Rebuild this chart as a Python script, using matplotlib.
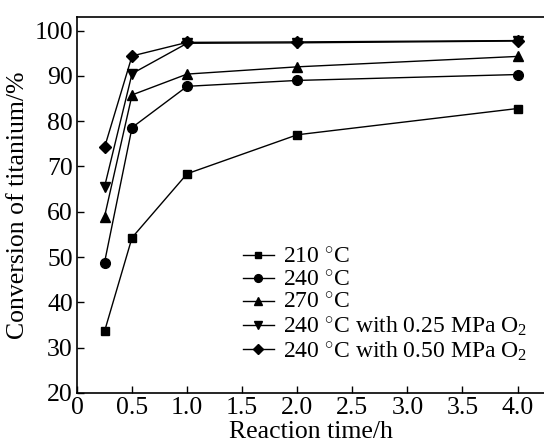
import matplotlib
matplotlib.use("Agg")
import matplotlib.pyplot as plt

plt.rcParams["font.family"] = "serif"
plt.rcParams["font.serif"] = ["Liberation Serif", "DejaVu Serif"]
plt.rcParams["mathtext.fontset"] = "custom"
plt.rcParams["mathtext.rm"] = "Liberation Serif"
plt.rcParams["mathtext.it"] = "Liberation Serif:italic"

time_h = [0.25, 0.5, 1.0, 2.0, 4.0]
conv_210 = [33.6, 54.3, 68.4, 77.0, 82.8]
conv_240 = [48.8, 78.6, 87.7, 89.0, 90.3]
conv_270 = [58.9, 85.8, 90.4, 92.0, 94.3]
conv_240_o2_025 = [65.5, 90.5, 97.2, 97.3, 97.7]
conv_240_o2_050 = [74.2, 94.4, 97.4, 97.5, 97.8]

labels = [r"210 $^{\circ}$C", r"240 $^{\circ}$C", r"270 $^{\circ}$C",
          r"240 $^{\circ}$C with 0.25 MPa O$_2$",
          r"240 $^{\circ}$C with 0.50 MPa O$_2$"]
markers = ["s", "o", "^", "v", "D"]
sizes = [6, 7, 7, 7, 6]
series = [conv_210, conv_240, conv_270, conv_240_o2_025, conv_240_o2_050]

fig = plt.figure(figsize=(5.44, 4.44), dpi=100)
ax = fig.add_axes([0.1415, 0.1149, 0.8585, 0.8468])

for y, m, s, lab in zip(series, markers, sizes, labels):
    ax.plot(time_h, y, color="black", marker=m, markersize=s, linewidth=1.0, label=lab)

ax.set_xlim(0, 4.24)
ax.set_ylim(20, 103)
ax.set_xticks([0, 0.5, 1.0, 1.5, 2.0, 2.5, 3.0, 3.5, 4.0])
ax.set_xticklabels(["0", "0.5", "1.0", "1.5", "2.0", "2.5", "3.0", "3.5", "4.0"])
ax.set_yticks(range(20, 101, 10))
ax.tick_params(direction="in", labelsize=18.5, length=5, width=1)
ax.tick_params(axis="x", pad=3)
ax.tick_params(axis="y", pad=3)
ax.spines["right"].set_visible(False)
for sp in ["left", "bottom", "top"]:
    ax.spines[sp].set_linewidth(1.2)

ax.set_xlabel("Reaction time/h", fontsize=18.5, labelpad=1.5)
ax.set_ylabel("Conversion of titanium/%", fontsize=18.5, labelpad=4)

ax.legend(loc="upper left", bbox_to_anchor=(0.33, 0.42), frameon=False, fontsize=17,
          handlelength=1.3, handletextpad=0.4, labelspacing=0.05, borderpad=0, markerscale=0.8)

fig.savefig("out.png", dpi=100)
